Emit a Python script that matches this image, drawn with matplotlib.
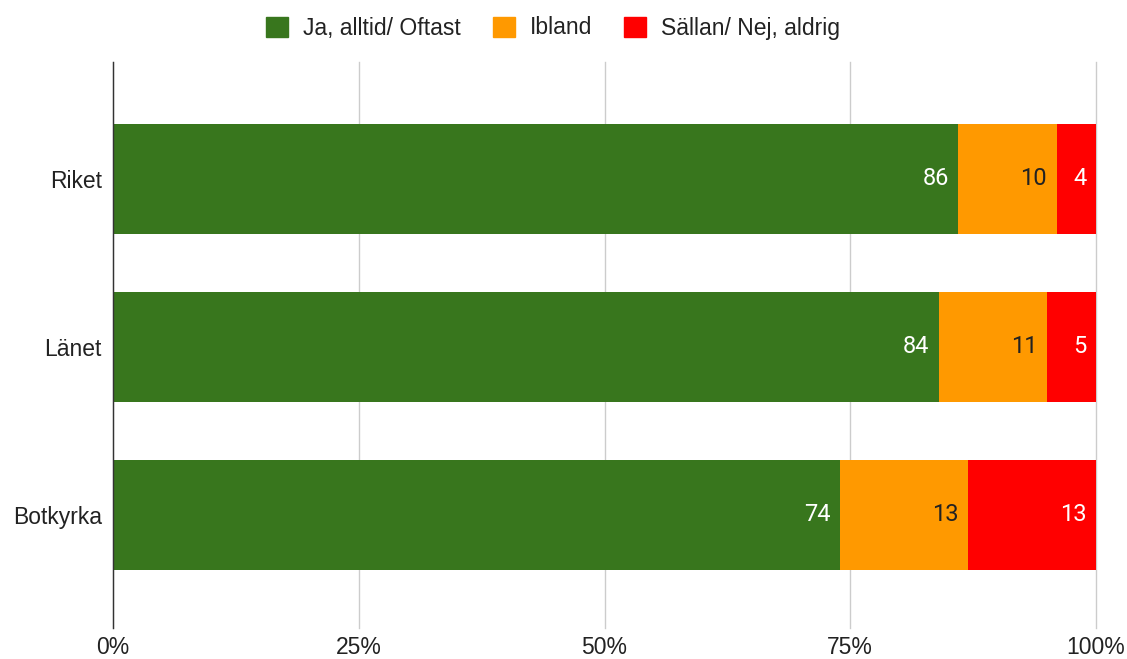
import numpy as np
import matplotlib.pyplot as plt
from matplotlib.patches import Patch

categories = ['Riket', 'Länet', 'Botkyrka']
series_names = ['Ja, alltid/ Oftast', 'Ibland', 'Sällan/ Nej, aldrig']
ja = [86, 84, 74]
ibland = [10, 11, 13]
sallan = [4, 5, 13]
x_ticks = [0, 25, 50, 75, 100]
x_tick_labels = ['0%', '25%', '50%', '75%', '100%']

colors = ['#38761d', '#ff9900', '#ff0000']
label_colors = ['white', '#222222', 'white']

W, H = 1127, 659
fig = plt.figure(figsize=(W / 100, H / 100), dpi=100, facecolor='white')
ax = fig.add_axes([113 / W, 1 - 628 / H, (1096 - 113) / W, (628 - 62) / H])

y = np.arange(len(categories))
left = np.zeros(len(categories))
for vals, col, lcol in zip([ja, ibland, sallan], colors, label_colors):
    vals = np.array(vals, dtype=float)
    ax.barh(y, vals, left=left, height=0.655, color=col, zorder=3)
    for yi, l, v in zip(y, left, vals):
        ax.annotate(f'{int(v)}', xy=(l + v, yi), xytext=(-7, 0), textcoords='offset points',
                    ha='right', va='center', color=lcol, fontsize=17, family='Roboto', zorder=4)
    left += vals

ax.set_xlim(0, 100)
ax.set_ylim(2.673, -0.696)
ax.set_yticks(y)
ax.set_yticklabels(categories)
ax.set_xticks(x_ticks)
ax.set_xticklabels(x_tick_labels)
ax.grid(axis='x', color='#cccccc', linewidth=1, zorder=0)
for gl in ax.get_xgridlines():
    gl.set_clip_on(False)
ax.tick_params(axis='both', length=0, labelsize=16.5, colors='#222222')
ax.tick_params(axis='y', pad=8)
ax.tick_params(axis='x', pad=6)
for lab in ax.get_xticklabels() + ax.get_yticklabels():
    lab.set_family('Liberation Sans')
for s in ['top', 'right', 'bottom']:
    ax.spines[s].set_visible(False)
ax.spines['left'].set_color('#333333')
ax.spines['left'].set_linewidth(1)
ax.spines['left'].set_zorder(5)

handles = [Patch(facecolor=c, edgecolor=c) for c in colors]
leg = fig.legend(handles, series_names, loc='center', bbox_to_anchor=(553 / W, 1 - 28 / H),
                 ncol=3, frameon=False, handlelength=0.96, handleheight=0.96,
                 columnspacing=1.4, handletextpad=0.65,
                 prop={'family': 'Liberation Sans', 'size': 16.5})
for t in leg.get_texts():
    t.set_color('#222222')

fig.savefig('out.png', dpi=100, facecolor='white')
